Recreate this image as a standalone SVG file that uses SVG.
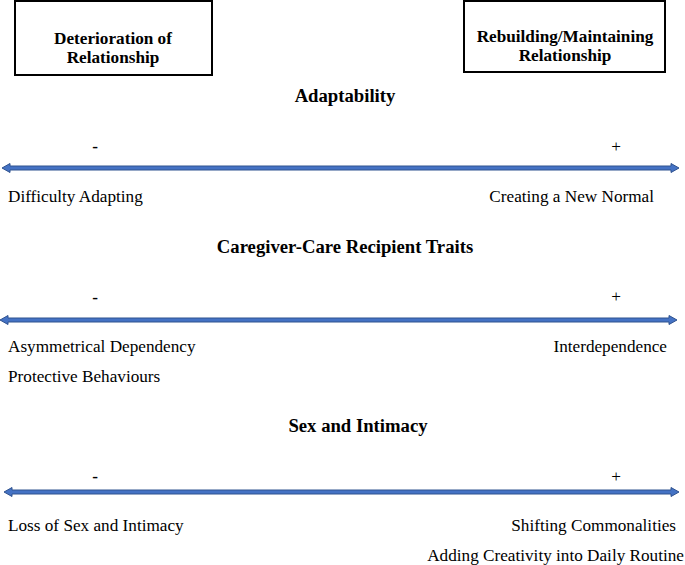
<svg xmlns="http://www.w3.org/2000/svg" width="685" height="565" viewBox="0 0 685 565">
<style>
text{font-family:"Liberation Serif","Times New Roman",serif;font-size:17.2px;fill:#000}
.b{font-weight:bold}
.h{font-weight:bold;font-size:18.7px}
.box{fill:#fff;stroke:#000;stroke-width:2}
.arr{fill:#4472C4;stroke:#2F528F;stroke-width:1}
</style>
<rect width="685" height="565" fill="#fff"/>
<g id="node-deterioration">
<rect class="box" x="15" y="1" width="197" height="74"/>
<text class="b" x="113" y="44" text-anchor="middle">Deterioration of</text>
<text class="b" x="113" y="63" text-anchor="middle">Relationship</text>
</g>
<g id="node-rebuilding">
<rect class="box" x="464" y="1" width="201" height="71"/>
<text class="b" x="565" y="42" text-anchor="middle">Rebuilding/Maintaining</text>
<text class="b" x="565" y="61" text-anchor="middle">Relationship</text>
</g>
<g id="connectors">
<path class="arr" d="M2,168 L10,163.5 L10,166 L671,166 L671,163.5 L679,168 L671,172.5 L671,170 L10,170 L10,172.5 Z"/>
<path class="arr" d="M0,320 L8,315.5 L8,318 L669,318 L669,315.5 L677,320 L669,324.5 L669,322 L8,322 L8,324.5 Z"/>
<path class="arr" d="M4,492 L12,487.5 L12,490 L671,490 L671,487.5 L679,492 L671,496.5 L671,494 L12,494 L12,496.5 Z"/>
</g>
<g id="adaptability">
<text class="h" x="345" y="102" text-anchor="middle">Adaptability</text>
<text class="b" x="95" y="152" text-anchor="middle">-</text>
<text x="616" y="152" text-anchor="middle">+</text>
<text x="8" y="202">Difficulty Adapting</text>
<text x="654" y="202" text-anchor="end">Creating a New Normal</text>
</g>
<g id="traits">
<text class="h" x="345" y="253" text-anchor="middle">Caregiver-Care Recipient Traits</text>
<text class="b" x="95" y="303" text-anchor="middle">-</text>
<text x="616" y="302" text-anchor="middle">+</text>
<text x="8" y="352">Asymmetrical Dependency</text>
<text x="667" y="352" text-anchor="end">Interdependence</text>
<text x="8" y="382">Protective Behaviours</text>
</g>
<g id="intimacy">
<text class="h" x="358" y="432" text-anchor="middle">Sex and Intimacy</text>
<text class="b" x="95" y="482" text-anchor="middle">-</text>
<text x="616" y="482" text-anchor="middle">+</text>
<text x="8" y="531">Loss of Sex and Intimacy</text>
<text x="676" y="531" text-anchor="end">Shifting Commonalities</text>
<text x="684" y="561" text-anchor="end">Adding Creativity into Daily Routine</text>
</g>
</svg>
